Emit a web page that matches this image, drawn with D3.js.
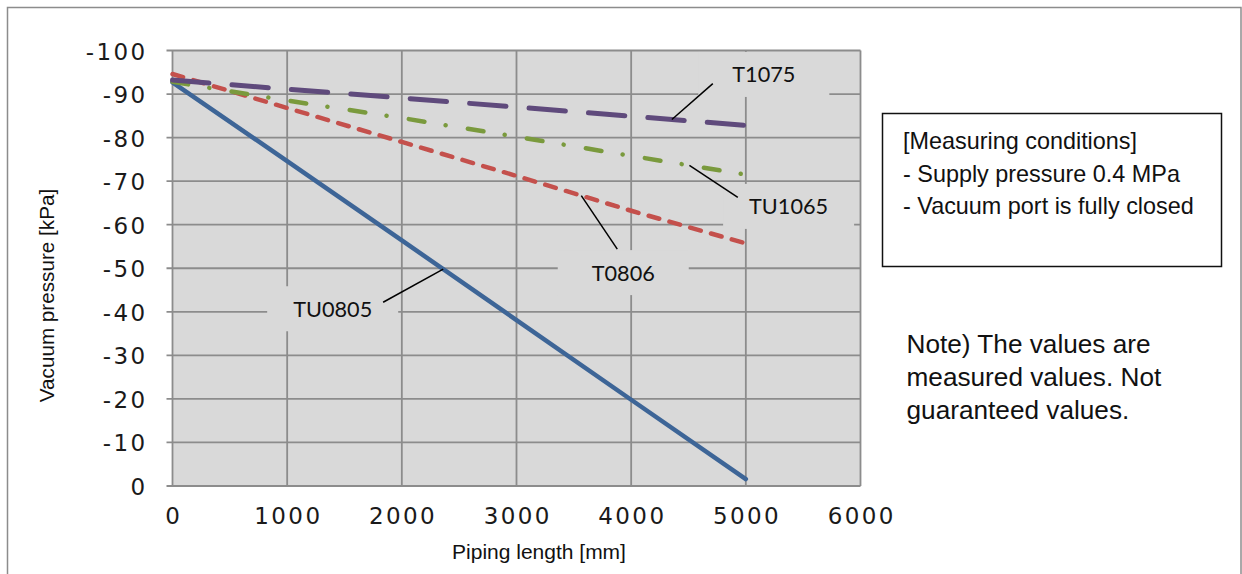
<!DOCTYPE html>
<html>
<head>
<meta charset="utf-8">
<script src="https://cdn.jsdelivr.net/npm/d3@7"></script>
<style>
  html, body { margin: 0; padding: 0; background: #ffffff; }
  svg { display: block; }
</style>
</head>
<body>
<svg id="chart" width="1242" height="574"></svg>
<script>
// ---------------- data ----------------
const pipingLength = [0, 1000, 2000, 3000, 4000, 5000];
const seriesNames = ["TU0805", "T0806", "TU1065", "T1075"];
const TU0805 = [-92.7, -74.6, -56.4, -38.1, -19.8, -1.6];
const T0806  = [-94.6, -86.8, -79.0, -71.2, -63.2, -55.7];
const TU1065 = [-92.8, -88.5, -84.5, -80.2, -75.8, -71.5];
const T1075  = [-93.2, -91.1, -89.1, -87.0, -84.9, -82.8];
const xTicks = [0, 1000, 2000, 3000, 4000, 5000, 6000];
const xTickLabels = ["0", "1000", "2000", "3000", "4000", "5000", "6000"];
const yTicks = [0, -10, -20, -30, -40, -50, -60, -70, -80, -90, -100];
const yTickLabels = ["0", "-10", "-20", "-30", "-40", "-50", "-60", "-70", "-80", "-90", "-100"];
const xTitle = "Piping length [mm]";
const yTitle = "Vacuum pressure [kPa]";
// annotation labels (data units)
const labelNames    = ["T1075", "TU1065", "T0806", "TU0805"];
const labelTextX    = [5157, 5373, 3931, 1397];
const labelTextY    = [-94.5, -64.2, -49.0, -40.7];
const leaderStartX  = [4712, 4930, 3879, 1837];
const leaderStartY  = [-92.4, -66.3, -54.4, -42.2];
const leaderAnchorX = [4355, 4508, 3565, 2361];
const conditionLines = ["[Measuring conditions]", "- Supply pressure 0.4 MPa", "- Vacuum port is fully closed"];
const noteLines = ["Note) The values are", "measured values. Not", "guaranteed values."];

const seriesValues = { TU0805, T0806, TU1065, T1075 };

// ---------------- styles ----------------
const styles = {
  TU0805: { color: "#3d6597", width: 4.5, dash: null },
  T0806:  { color: "#c4504c", width: 4.5, dash: "11,10.6" },
  TU1065: { color: "#7a9a3d", width: 4.5, dash: "15.8,21.5,0.01,22.5" },
  T1075:  { color: "#5f4a7c", width: 5,   dash: "36.5,23.1" }
};
const gridColor = "#8c8c8c";

// ---------------- layout ----------------
const svg = d3.select("#chart");
const x = d3.scaleLinear().domain([0, 6000]).range([172.5, 860.5]);
const y = d3.scaleLinear().domain([0, -100]).range([486, 50.5]);

// outer border
svg.append("rect")
  .attr("x", 7.5).attr("y", 7.5)
  .attr("width", 1233.5).attr("height", 600)
  .attr("fill", "none").attr("stroke", gridColor).attr("stroke-width", 1.5);

// plot background
svg.append("rect")
  .attr("x", x(0)).attr("y", y(-100))
  .attr("width", x(6000) - x(0)).attr("height", y(0) - y(-100))
  .attr("fill", "#d9d9d9");

// horizontal gridlines (with left tick marks)
svg.append("g").selectAll("line").data(yTicks).join("line")
  .attr("x1", x(0) - 6).attr("x2", x(6000))
  .attr("y1", d => y(d)).attr("y2", d => y(d))
  .attr("stroke", gridColor).attr("stroke-width", 1.8);

// vertical gridlines
svg.append("g").selectAll("line").data(xTicks).join("line")
  .attr("x1", d => x(d)).attr("x2", d => x(d))
  .attr("y1", y(-100)).attr("y2", y(0))
  .attr("stroke", gridColor).attr("stroke-width", 1.8);

// y tick labels
svg.append("g").selectAll("text").data(yTicks).join("text")
  .attr("x", 147.5).attr("y", d => y(d) + 9)
  .attr("text-anchor", "end")
  .attr("font-family", "DejaVu Sans").attr("font-size", 23)
  .attr("letter-spacing", "2.4px")
  .attr("fill", "#1a1a1a")
  .text((d, i) => yTickLabels[i]);

// x tick labels
svg.append("g").selectAll("text").data(xTicks).join("text")
  .attr("x", d => x(d) + 1.2).attr("y", 523.5)
  .attr("text-anchor", "middle")
  .attr("font-family", "DejaVu Sans").attr("font-size", 23)
  .attr("letter-spacing", "2.4px")
  .attr("fill", "#1a1a1a")
  .text((d, i) => xTickLabels[i]);

// axis titles
svg.append("text")
  .attr("x", 539).attr("y", 558.5)
  .attr("text-anchor", "middle")
  .attr("font-family", "Liberation Sans, Arial, sans-serif").attr("font-size", 21)
  .attr("fill", "#111").text(xTitle);
svg.append("text")
  .attr("transform", "translate(54,295.5) rotate(-90)")
  .attr("text-anchor", "middle")
  .attr("font-family", "Liberation Sans, Arial, sans-serif").attr("font-size", 20.7)
  .attr("fill", "#111").text(yTitle);

// label boxes (cover gridlines)
const boxW = 131, boxH = 45;
svg.append("g").selectAll("rect").data(labelNames).join("rect")
  .attr("x", (d, i) => x(labelTextX[i]) - boxW / 2)
  .attr("y", (d, i) => y(labelTextY[i]) - boxH / 2)
  .attr("width", boxW).attr("height", boxH)
  .attr("fill", "#d9d9d9");

// series lines
const line = d3.line().x((d, i) => x(pipingLength[i])).y(d => y(d));
seriesNames.forEach(name => {
  const s = styles[name];
  svg.append("path")
    .datum(seriesValues[name])
    .attr("d", line)
    .attr("fill", "none")
    .attr("stroke", s.color)
    .attr("stroke-width", s.width)
    .attr("stroke-linecap", "round")
    .attr("stroke-linejoin", "round")
    .attr("stroke-dasharray", s.dash);
});

// interpolate series value at a given piping length
function valueAt(name, xv) {
  const vals = seriesValues[name];
  return d3.scaleLinear().domain(pipingLength).range(vals)(xv);
}

// leader lines
svg.append("g").selectAll("line").data(labelNames).join("line")
  .attr("x1", (d, i) => x(leaderStartX[i]))
  .attr("y1", (d, i) => y(leaderStartY[i]))
  .attr("x2", (d, i) => x(leaderAnchorX[i]))
  .attr("y2", (d, i) => y(valueAt(d, leaderAnchorX[i])))
  .attr("stroke", "#000").attr("stroke-width", 1.5);

// label text
svg.append("g").selectAll("text").data(labelNames).join("text")
  .attr("x", (d, i) => x(labelTextX[i]))
  .attr("y", (d, i) => y(labelTextY[i]) + 8)
  .attr("text-anchor", "middle")
  .attr("font-family", "Lato, 'Open Sans', sans-serif").attr("font-size", 21.7)
  .attr("fill", "#111")
  .text(d => d);

// measuring conditions box
svg.append("rect")
  .attr("x", 882.5).attr("y", 113.5)
  .attr("width", 339).attr("height", 153)
  .attr("fill", "#fff").attr("stroke", "#111").attr("stroke-width", 1.5);
svg.append("g").selectAll("text").data(conditionLines).join("text")
  .attr("x", 903).attr("y", (d, i) => 149 + i * 32.5)
  .attr("font-family", "Liberation Sans, Arial, sans-serif").attr("font-size", 23.4)
  .attr("fill", "#111").text(d => d);

// note
svg.append("g").selectAll("text").data(noteLines).join("text")
  .attr("x", 906.5).attr("y", (d, i) => 353 + i * 33)
  .attr("font-family", "Liberation Sans, Arial, sans-serif").attr("font-size", 26.2)
  .attr("fill", "#111").text(d => d);
</script>
</body>
</html>
